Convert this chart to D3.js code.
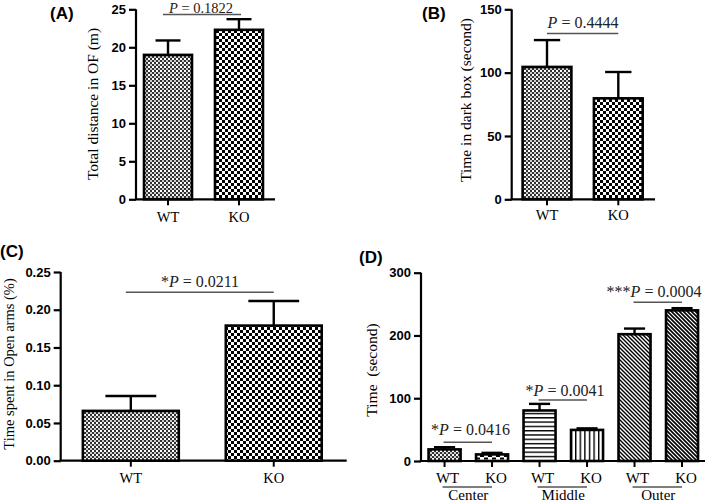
<!DOCTYPE html>
<html><head><meta charset="utf-8">
<script src="https://cdn.jsdelivr.net/npm/d3@7"></script>
<style>body{margin:0;background:#fff}svg{display:block}</style>
</head><body>
<svg id="c" width="709" height="504"></svg>
<script>
// ---- data ----
const genotypes = ["WT", "KO"];
const distanceOF = [19.0, 22.3];
const distanceOFErr = [1.9, 1.4];
const darkBoxTime = [104.5, 79.7];
const darkBoxErr = [21.2, 20.8];
const openArmsTime = [0.066, 0.179];
const openArmsErr = [0.0197, 0.0326];
const zones = ["Center", "Middle", "Outer"];
const zoneTimeWT = [18.5, 80.5, 202];
const zoneTimeKO = [10.5, 49.5, 240];
const zoneErrWT = [3.5, 10.5, 9];
const zoneErrKO = [2.5, 2.5, 3.5];
const ticksA = [0, 5, 10, 15, 20, 25];
const ticksB = [0, 50, 100, 150];
const ticksC = [0, 0.05, 0.10, 0.15, 0.20, 0.25];
const ticksD = [0, 100, 200, 300];
const pA = {star: "", val: " = 0.1822"};
const pB = {star: "", val: " = 0.4444"};
const pC = {star: "*", val: " = 0.0211"};
const pD = [{star: "*", val: " = 0.0416"}, {star: "*", val: " = 0.0041"}, {star: "***", val: " = 0.0004"}];

const svg = d3.select("#c");
const defs = svg.append("defs");

// patterns
function pat(id, w, h, draw) {
  const p = defs.append("pattern").attr("id", id).attr("patternUnits", "userSpaceOnUse")
    .attr("width", w).attr("height", h);
  p.append("rect").attr("width", w).attr("height", h).attr("fill", "#fff");
  draw(p);
}
pat("fineCheck", 4, 4, p => {
  p.append("rect").attr("width", 2).attr("height", 2).attr("fill", "#333");
  p.append("rect").attr("x", 2).attr("y", 2).attr("width", 2).attr("height", 2).attr("fill", "#333");
  p.append("rect").attr("x", 2).attr("y", 0).attr("width", 2).attr("height", 2).attr("fill", "#ccc");
});
pat("bigCheck", 6, 6, p => {
  p.append("rect").attr("width", 3).attr("height", 3).attr("fill", "#000");
  p.append("rect").attr("x", 3).attr("y", 3).attr("width", 3).attr("height", 3).attr("fill", "#000");
});
pat("dash", 8, 5, p => {
  p.append("rect").attr("x", 0).attr("y", 0).attr("width", 4).attr("height", 2).attr("fill", "#000");
  p.append("rect").attr("x", 4).attr("y", 2.5).attr("width", 4).attr("height", 2).attr("fill", "#000");
});
pat("hLines", 4, 4.3, p => {
  p.append("rect").attr("y", 0).attr("width", 4).attr("height", 1.4).attr("fill", "#000");
});
pat("vLines", 4.6, 4, p => {
  p.append("rect").attr("x", 0).attr("width", 1.4).attr("height", 4).attr("fill", "#000");
});
pat("diag1", 4, 4, p => {
  p.append("path").attr("d", "M-1,-1 L5,5 M-1,3 L1,5 M3,-1 L5,1").attr("stroke", "#000").attr("stroke-width", 1.4);
});
pat("diag2", 4, 4, p => {
  p.append("path").attr("d", "M-1,-1 L5,5 M-1,3 L1,5 M3,-1 L5,1").attr("stroke", "#000").attr("stroke-width", 1.6);
});

const serif = "'Liberation Serif','Times New Roman',serif";
const sans = "'Liberation Sans',Arial,sans-serif";

function panel(cfg) {
  const g = svg.append("g");
  const y = d3.scaleLinear().domain(cfg.yDomain).range([cfg.y0, cfg.y1]);
  const x = d3.scaleBand().domain(cfg.cats).range([cfg.x0, cfg.x1])
    .paddingInner(cfg.pi).paddingOuter(cfg.po).align(cfg.align);

  // y axis
  const ya = g.append("g").attr("transform", `translate(${cfg.x0},0)`)
    .call(d3.axisLeft(y).tickValues(cfg.ticks).tickSize(7).tickPadding(3).tickFormat(cfg.fmt || d3.format("d")));
  ya.select(".domain").attr("stroke", "#000").attr("stroke-width", 2.2).attr("d", `M0,${cfg.y0}V${cfg.y1}`);
  ya.selectAll(".tick line").attr("stroke", "#000").attr("stroke-width", 2.2);
  ya.selectAll(".tick text").attr("font-family", sans).attr("font-weight", "bold").attr("font-size", 13).attr("fill", "#000");

  // x axis
  const xa = g.append("g").attr("transform", `translate(0,${cfg.y0})`)
    .call(d3.axisBottom(x).tickSize(6).tickFormat(""));
  xa.select(".domain").attr("stroke", "#000").attr("stroke-width", 2.2).attr("d", `M${cfg.x0 - 1},0H${cfg.x1}`);
  xa.selectAll(".tick line").attr("stroke", "#000").attr("stroke-width", 2);

  // bars
  const data = cfg.cats.map((c, i) => ({c, v: cfg.vals[i], e: cfg.errs[i], f: cfg.fills[i]}));
  const bw = x.bandwidth();
  const cap = bw * cfg.capFrac;
  data.forEach(d => {
    const cx = x(d.c) + bw / 2;
    g.append("line").attr("x1", cx).attr("x2", cx).attr("y1", y(d.v)).attr("y2", y(d.v + d.e))
      .attr("stroke", "#000").attr("stroke-width", 2.4);
    g.append("line").attr("x1", cx - cap / 2).attr("x2", cx + cap / 2).attr("y1", y(d.v + d.e)).attr("y2", y(d.v + d.e))
      .attr("stroke", "#000").attr("stroke-width", 2.4);
    g.append("rect").attr("x", x(d.c)).attr("y", y(d.v)).attr("width", bw).attr("height", y(0) - y(d.v))
      .attr("fill", `url(#${d.f})`).attr("stroke", "#000").attr("stroke-width", 2.6);
  });

  // y label
  g.append("text").attr("transform", `translate(${cfg.ylx},${cfg.yly}) rotate(-90)`)
    .attr("text-anchor", "middle").attr("dominant-baseline", "central")
    .attr("font-family", serif).attr("font-size", cfg.ylfs || 15).attr("fill", "#000").text(cfg.ylabel);
  // panel label
  g.append("text").attr("x", cfg.plx).attr("y", cfg.ply).attr("font-family", sans).attr("font-weight", "bold")
    .attr("font-size", 17).attr("fill", "#000").text(cfg.plabel);
  return {g, x, y, bw};
}

function pText(g, p, cx, by, x1, x2, ly, fs) {
  g.append("line").attr("x1", x1).attr("x2", x2).attr("y1", ly).attr("y2", ly)
    .attr("stroke", "#555").attr("stroke-width", 1.4);
  const t = g.append("text").attr("x", cx).attr("y", by).attr("text-anchor", "middle")
    .attr("font-family", serif).attr("font-size", fs || 16).attr("fill", "#222");
  if (p.star) t.append("tspan").text(p.star);
  t.append("tspan").attr("font-style", "italic").text("P");
  t.append("tspan").text(p.val);
}

function catLabels(r, cats, by) {
  cats.forEach(c => {
    r.g.append("text").attr("x", r.x(c) + r.bw / 2).attr("y", by).attr("text-anchor", "middle")
      .attr("font-family", serif).attr("font-size", 14.5).attr("fill", "#000").text(c);
  });
}

// Panel A
const A = panel({cats: genotypes, vals: distanceOF, errs: distanceOFErr, fills: ["fineCheck", "bigCheck"],
  yDomain: [0, 25], ticks: ticksA, y0: 199.3, y1: 9.3, x0: 136, x1: 275, pi: 0.324, po: 0.141, align: 0.4,
  capFrac: 0.52, ylabel: "Total distance in OF (m)", ylfs: 15.5, ylx: 92, yly: 104, plabel: "(A)", plx: 50, ply: 19});
catLabels(A, genotypes, 221.5);
pText(A.g, pA, 201, 13.3, A.x("WT") + A.bw / 2 - 5, A.x("KO") + A.bw / 2 + 2, 14.5, 14.5);

// Panel B
const B = panel({cats: genotypes, vals: darkBoxTime, errs: darkBoxErr, fills: ["fineCheck", "bigCheck"],
  yDomain: [0, 150], ticks: ticksB, y0: 199.3, y1: 9.3, x0: 511.7, x1: 655, pi: 0.316, po: 0.163, align: 0.47,
  capFrac: 0.54, ylabel: "Time in dark box (second)", ylfs: 15.5, ylx: 465, yly: 100, plabel: "(B)", plx: 422, ply: 19});
catLabels(B, genotypes, 220);
pText(B.g, pB, 583, 28, B.x("WT") + B.bw / 2, B.x("KO") + B.bw / 2, 33.5);

// Panel C
const C = panel({cats: genotypes, vals: openArmsTime, errs: openArmsErr, fills: ["fineCheck", "bigCheck"],
  yDomain: [0, 0.25], ticks: ticksC, fmt: d3.format(".2f"), y0: 460.7, y1: 272, x0: 60.7, x1: 346.7,
  pi: 0.329, po: 0.165, align: 0.47, capFrac: 0.53, ylabel: "Time spent in Open arms (%)", ylfs: 14.5, ylx: 9, yly: 364,
  plabel: "(C)", plx: 0, ply: 257});
catLabels(C, genotypes, 483);
pText(C.g, pC, 200, 287, C.x("WT") + C.bw / 2 - 5, C.x("KO") + C.bw / 2, 292.3);

// Panel D
const dCats = [];
const dVals = [], dErrs = [];
zones.forEach((z, i) => {
  dCats.push(z + "|WT", z + "|KO");
  dVals.push(zoneTimeWT[i], zoneTimeKO[i]);
  dErrs.push(zoneErrWT[i], zoneErrKO[i]);
});
const D = panel({cats: dCats, vals: dVals, errs: dErrs,
  fills: ["fineCheck", "dash", "hLines", "vLines", "diag1", "diag2"],
  yDomain: [0, 300], ticks: ticksD, y0: 461, y1: 272.7, x0: 421, x1: 705, pi: 0.326, po: 0.153, align: 0.52,
  capFrac: 0.66, ylabel: "Time\u00A0 (second)", ylfs: 15.5, ylx: 371, yly: 370, plabel: "(D)", plx: 359, ply: 263});
const dPos = [[470.5, 435, 442.3], [565, 396, 400], [654, 296.7, 302.3]];
zones.forEach((z, i) => {
  const wx = D.x(z + "|WT") + D.bw / 2, kx = D.x(z + "|KO") + D.bw / 2;
  D.g.append("text").attr("x", wx + 3).attr("y", 483).attr("text-anchor", "middle")
    .attr("font-family", serif).attr("font-size", 15).attr("fill", "#000").text("WT");
  D.g.append("text").attr("x", kx + 4).attr("y", 483).attr("text-anchor", "middle")
    .attr("font-family", serif).attr("font-size", 15).attr("fill", "#000").text("KO");
  D.g.append("line").attr("x1", wx - 2).attr("x2", kx).attr("y1", 487).attr("y2", 487)
    .attr("stroke", "#000").attr("stroke-width", 1);
  D.g.append("text").attr("x", (wx + kx) / 2).attr("y", 500).attr("text-anchor", "middle")
    .attr("font-family", serif).attr("font-size", 15).attr("fill", "#000").text(z);
  pText(D.g, pD[i], dPos[i][0], dPos[i][1], wx - 1, kx, dPos[i][2]);
});
</script>
</body></html>
